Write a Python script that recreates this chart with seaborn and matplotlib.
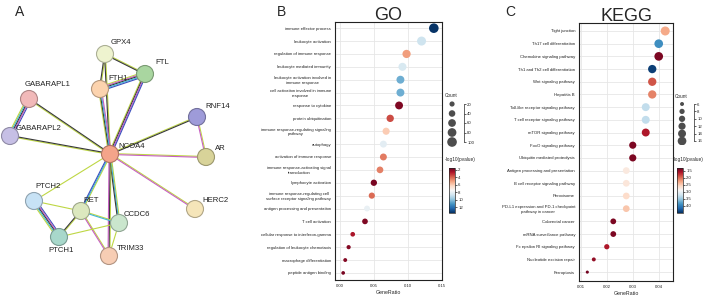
import numpy as np
import pandas as pd
import matplotlib
matplotlib.use("Agg")
import matplotlib.pyplot as plt
import matplotlib.colors as mcolors
import seaborn as sns

# ---------------- data ----------------
# network (panel A)
genes = ['GPX4', 'FTL', 'FTH1', 'GABARAPL1', 'GABARAPL2', 'RNF14', 'NCOA4',
         'AR', 'HERC2', 'PTCH2', 'RET', 'CCDC6', 'PTCH1', 'TRIM33']
node_x = [105, 145, 100, 29, 10, 197, 110, 206, 195, 34, 81, 119, 59, 109]
node_y = [54, 74, 89, 99, 136, 117, 154, 157, 209, 201, 211, 223, 237, 256]
node_colors = ['#EEF3CF', '#A9D6A0', '#FCD3AE', '#F1B9B9', '#C6BFE5', '#9E9BD9',
               '#F4A48A', '#D8D399', '#F5E5B9', '#C7E2F5', '#DCE8BF', '#CAE6CD',
               '#A8D8CB', '#F7CDB4']
edges = [
    ('GPX4', 'FTL', 'yk'), ('GPX4', 'FTH1', 'yk'), ('GPX4', 'NCOA4', 'yk'),
    ('FTH1', 'FTL', 'ymkcb'), ('NCOA4', 'FTH1', 'ykcm'), ('NCOA4', 'FTL', 'ykmb'),
    ('GABARAPL1', 'GABARAPL2', 'bmkcy'), ('NCOA4', 'GABARAPL1', 'yk'),
    ('NCOA4', 'GABARAPL2', 'yk'), ('NCOA4', 'RNF14', 'yk'), ('RNF14', 'AR', 'ym'),
    ('NCOA4', 'AR', 'ym'), ('NCOA4', 'HERC2', 'ym'), ('NCOA4', 'PTCH2', 'y'),
    ('NCOA4', 'RET', 'ycb'), ('NCOA4', 'CCDC6', 'yck'), ('NCOA4', 'TRIM33', 'ykm'),
    ('PTCH2', 'PTCH1', 'bmkcy'), ('PTCH2', 'RET', 'y'), ('RET', 'PTCH1', 'yk'),
    ('RET', 'CCDC6', 'yc'), ('RET', 'TRIM33', 'ym'), ('PTCH1', 'CCDC6', 'y'),
    ('CCDC6', 'TRIM33', 'y'),
]

# GO enrichment (panel B)
go_terms = ['immune effector process', 'leukocyte activation',
            'regulation of immune response', 'leukocyte mediated immunity',
            'leukocyte activation involved in\nimmune response',
            'cell activation involved in immune\nresponse',
            'response to cytokine', 'protein ubiquitination',
            'immune response-regulating signaling\npathway', 'autophagy',
            'activation of immune response',
            'immune response-activating signal\ntransduction',
            'lymphocyte activation',
            'immune response-regulating cell\nsurface receptor signaling pathway',
            'antigen processing and presentation', 'T cell activation',
            'cellular response to interferon-gamma',
            'regulation of leukocyte chemotaxis', 'macrophage differentiation',
            'peptide antigen binding']
go_ratio = [0.138, 0.120, 0.098, 0.092, 0.089, 0.089, 0.087, 0.074, 0.068, 0.064,
            0.064, 0.059, 0.050, 0.047, 0.040, 0.037, 0.019, 0.013, 0.008, 0.005]
go_count = [99, 86, 70, 66, 64, 64, 63, 53, 49, 46, 46, 42, 36, 34, 29, 27, 14, 9, 6, 4]
go_logp = [13.5, 8.8, 5.0, 8.5, 10.5, 10.5, 1.9, 3.6, 6.0, 8.2,
           4.4, 4.5, 1.8, 4.1, 8.0, 1.9, 2.6, 2.0, 2.0, 1.8]
go_size_breaks = [20, 40, 60, 80, 100]
go_cbar_ticks = [2, 4, 6, 8, 10, 12]

# KEGG enrichment (panel C)
kegg_terms = ['Tight junction', 'Th17 cell differentiation',
              'Chemokine signaling pathway', 'Th1 and Th2 cell differentiation',
              'Wnt signaling pathway', 'Hepatitis B',
              'Toll-like receptor signaling pathway',
              'T cell receptor signaling pathway', 'mTOR signaling pathway',
              'FoxO signaling pathway', 'Ubiquitin mediated proteolysis',
              'Antigen processing and presentation',
              'B cell receptor signaling pathway', 'Peroxisome',
              'PD-L1 expression and PD-1 checkpoint\npathway in cancer',
              'Colorectal cancer', 'mRNA surveillance pathway',
              'Fc epsilon RI signaling pathway', 'Nucleotide excision repair',
              'Ferroptosis']
kegg_count = [17, 16, 16, 15, 15, 15, 14, 14, 14, 12, 12, 11, 11, 11, 11, 9, 9, 8, 6, 5]
kegg_ratio = [0.0425, 0.0400, 0.0400, 0.0375, 0.0375, 0.0375, 0.0350, 0.0350, 0.0350,
              0.0300, 0.0300, 0.0275, 0.0275, 0.0275, 0.0275, 0.0225, 0.0225, 0.0200,
              0.0150, 0.0125]
kegg_logp = [2.3, 3.9, 1.4, 4.4, 1.9, 2.1, 3.3, 3.3, 1.6, 1.4,
             1.4, 2.75, 2.7, 2.6, 2.45, 1.4, 1.4, 1.6, 1.5, 1.35]
kegg_size_breaks = [6, 8, 10, 12, 14, 16]
kegg_cbar_ticks = [1.5, 2.0, 2.5, 3.0, 3.5, 4.0]

# ---------------- figure ----------------
sns.set_style('white')
plt.rcParams['font.family'] = ['Liberation Sans', 'DejaVu Sans']
W, H = 709, 295
fig = plt.figure(figsize=(W / 100, H / 100), dpi=100)


def fax(x0, y0, x1, y1):
    # axes from pixel box (top-left origin)
    return fig.add_axes([x0 / W, 1 - y1 / H, (x1 - x0) / W, (y1 - y0) / H])


# ---- panel A : network ----
axA = fax(0, 0, 235, 295)
axA.set_xlim(0, 235)
axA.set_ylim(295, 0)
axA.axis('off')
pos = dict(zip(genes, zip(node_x, node_y)))
chan = {'y': '#BED744', 'k': '#383838', 'm': '#C65FC2', 'c': '#40B6D8', 'b': '#3C50BE'}
for a, b, ch in edges:
    p0, p1 = np.array(pos[a], float), np.array(pos[b], float)
    d = p1 - p0
    nrm = np.array([-d[1], d[0]]) / np.hypot(*d)
    n = len(ch)
    sp = 1.1 if n >= 5 else 0.95
    for i, c in enumerate(ch):
        o = nrm * (i - (n - 1) / 2) * sp
        axA.plot([p0[0] + o[0], p1[0] + o[0]], [p0[1] + o[1], p1[1] + o[1]],
                 color=chan[c], lw=0.8, solid_capstyle='butt', zorder=1)

net_df = pd.DataFrame({'gene': genes, 'x': node_x, 'y': node_y})
sns.scatterplot(data=net_df, x='x', y='y', hue='gene',
                palette=dict(zip(genes, node_colors)), s=150, legend=False,
                ax=axA, zorder=3, linewidth=0.8)
dark = [tuple(np.array(mcolors.to_rgb(c)) * 0.72) for c in node_colors]
axA.collections[-1].set_edgecolor(dark)
axA.set_xlabel('')
axA.set_ylabel('')

label_off = {'GPX4': (6, -11), 'FTL': (10, -11), 'FTH1': (8, -11),
             'GABARAPL1': (-4, -15), 'GABARAPL2': (6, -8), 'RNF14': (8, -10),
             'NCOA4': (8, -7), 'AR': (9, -9), 'HERC2': (7, -9), 'PTCH2': (1, -15),
             'RET': (2, -10), 'CCDC6': (5, -9), 'PTCH1': (-11, 13), 'TRIM33': (8, -7)}
for g, x, y in zip(genes, node_x, node_y):
    dx, dy = label_off[g]
    axA.text(x + dx, y + dy, g, fontsize=5.6, ha='left', va='center',
             color='#222222', zorder=4)
fig.text(20 / W, 1 - 12 / H, 'A', fontsize=10, ha='center', va='center')


# ---- dot plots ----
def dotplot(box, terms, ratio, count, logp, xlim, xticks, xfmt, title,
            ylims, size_rng, size_norm, breaks, cticks, clim,
            leg_x, leg_top, leg_step, cb_box):
    ax = fax(*box)
    df = pd.DataFrame({'term': terms, 'GeneRatio': ratio, 'Count': count,
                       'logp': logp})
    norm = mcolors.Normalize(vmin=clim[0], vmax=clim[1])
    cmap = plt.get_cmap('RdBu')
    ax.set_axisbelow(True)
    ax.grid(True, color='#E6E6E6', lw=0.6)
    sns.scatterplot(data=df, x='GeneRatio', y='term', size='Count',
                    sizes=size_rng, size_norm=size_norm, c=cmap(norm(df['logp'])),
                    linewidth=0, legend=False, ax=ax, zorder=3)
    ax.set_xlim(*xlim)
    ax.set_ylim(*ylims)
    ax.set_xticks(xticks)
    ax.set_xticklabels([xfmt.format(v) for v in xticks])
    ax.tick_params(axis='both', labelsize=3.1, length=1.8, width=0.5, pad=1,
                   colors='#222222')
    for lab in ax.get_yticklabels():
        lab.set_multialignment('center')
    for s in ax.spines.values():
        s.set_color('#222222')
        s.set_linewidth(0.8)
    ax.set_ylabel('')
    ax.set_xlabel('GeneRatio', fontsize=3.8, labelpad=1.5)
    ax.set_title(title, fontsize=13, pad=1.5)

    # size legend
    lx0, lx1 = leg_x - 7, leg_x + 12
    ly0 = leg_top - leg_step / 2
    ly1 = leg_top + leg_step * (len(breaks) - 0.5)
    lax = fax(lx0, ly0, lx1, ly1)
    ldf = pd.DataFrame({'v': breaks, 'x': [0] * len(breaks),
                        'y': list(range(len(breaks)))})
    sns.scatterplot(data=ldf, x='x', y='y', size='v', sizes=size_rng,
                    size_norm=size_norm, color='#4D4D4D', linewidth=0,
                    legend=False, ax=lax)
    lax.set_xlim(-1, 1.7)
    lax.set_ylim(len(breaks) - 0.5, -0.5)
    lax.set_xticks([])
    lax.set_yticks(range(len(breaks)))
    lax.set_yticklabels([str(b) for b in breaks])
    lax.yaxis.tick_right()
    lax.tick_params(axis='y', labelsize=3.1, length=1.5, width=0.5, pad=0.8,
                    colors='#222222')
    for k, s in lax.spines.items():
        s.set_visible(k == 'right')
    lax.spines['right'].set_linewidth(0.5)
    lax.spines['right'].set_bounds(0, len(breaks) - 1)
    lax.set_xlabel('')
    lax.set_ylabel('')
    lax.patch.set_alpha(0)
    fig.text(lx0 / W, 1 - (ly0 - 4) / H, 'Count', fontsize=3.4, va='center')

    # colorbar
    cax = fax(*cb_box)
    cb = fig.colorbar(plt.cm.ScalarMappable(norm=norm, cmap=cmap), cax=cax)
    cb.set_ticks(cticks)
    cb.ax.invert_yaxis()
    cb.ax.tick_params(labelsize=3.1, length=1.5, width=0.5, pad=0.8,
                      colors='#222222')
    cb.outline.set_linewidth(0.5)
    fig.text(cb_box[0] / W - 4 / W, 1 - (cb_box[1] - 8) / H, '-log10(pvalue)',
             fontsize=3.4, va='center')
    return ax


dotplot((335, 22, 442, 280), go_terms, go_ratio, go_count, go_logp,
        (-0.007, 0.150), [0.00, 0.05, 0.10, 0.15], '{:.2f}', 'GO',
        (19.55, -0.48), (7, 48), (4, 100), go_size_breaks, go_cbar_ticks,
        (1.5, 13.6), 452, 104, 9.5, (449, 168, 455, 213))
fig.text(281 / W, 1 - 12 / H, 'B', fontsize=10, ha='center', va='center')

dotplot((579, 23, 673, 281), kegg_terms, kegg_ratio, kegg_count, kegg_logp,
        (0.0093, 0.0455), [0.01, 0.02, 0.03, 0.04], '{:.2f}', 'KEGG',
        (19.7, -0.63), (5, 42), (5, 17), kegg_size_breaks, kegg_cbar_ticks,
        (1.3, 4.5), 682, 104, 7.4, (677, 168, 683, 213))
fig.text(510 / W, 1 - 12 / H, 'C', fontsize=10, ha='center', va='center')

fig.savefig('out.png', dpi=100)
